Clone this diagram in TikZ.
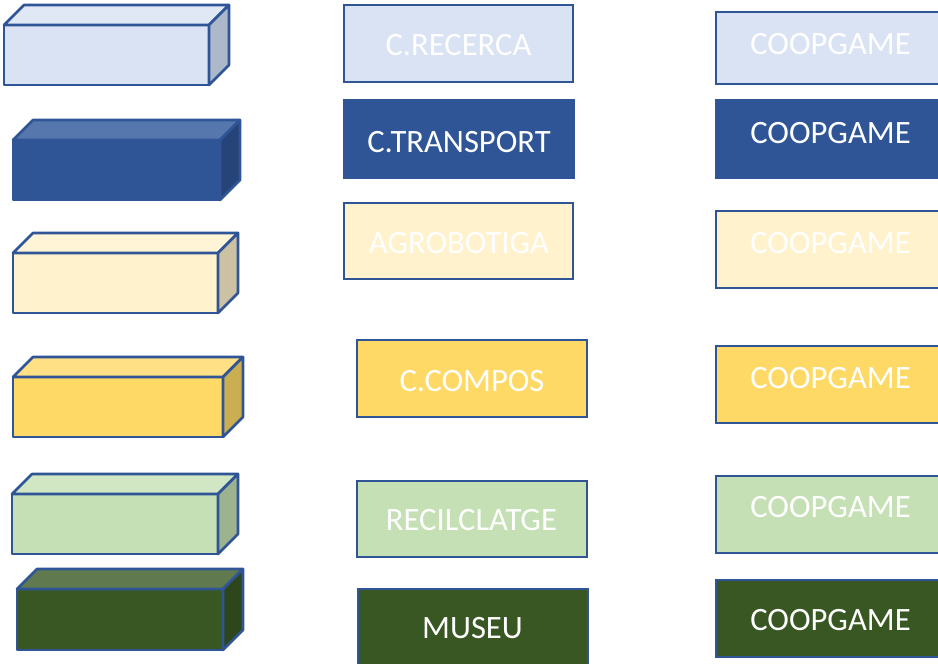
\documentclass[tikz,border=0pt]{standalone}
\usepackage{fontspec}
\setmainfont{Carlito}
\usepackage{xcolor}

\definecolor{edgeblue}{HTML}{2F5597}
\definecolor{paleblue}{HTML}{DAE3F3}
\definecolor{paleblueTop}{HTML}{E1E8F5}
\definecolor{paleblueSide}{HTML}{ADB9CA}
\definecolor{deepblue}{HTML}{2F5597}
\definecolor{deepblueTop}{HTML}{5677AE}
\definecolor{deepblueSide}{HTML}{264478}
\definecolor{cream}{HTML}{FFF2CC}
\definecolor{creamTop}{HTML}{FFF4D6}
\definecolor{creamSide}{HTML}{CCC2A3}
\definecolor{gold}{HTML}{FFD966}
\definecolor{goldTop}{HTML}{FFE085}
\definecolor{goldSide}{HTML}{CCAE52}
\definecolor{mint}{HTML}{C5E0B4}
\definecolor{mintTop}{HTML}{D1E6C3}
\definecolor{mintSide}{HTML}{9DB390}
\definecolor{forest}{HTML}{385723}
\definecolor{forestTop}{HTML}{60794F}
\definecolor{forestSide}{HTML}{2D461C}

% box with depth: x1 y1 x2 y2 face top side edge
\newcommand{\drawbrick}[8]{%
  \draw[brick, fill=#5, draw=#8] (#1,#2) rectangle (#3,#4);
  \draw[brick, fill=#6, draw=#8] (#1,#2) -- (#1+20,#2-20) -- (#3+20,#2-20) -- (#3,#2) -- cycle;
  \draw[brick, fill=#7, draw=#8] (#3,#2) -- (#3+20,#2-20) -- (#3+20,#4-20) -- (#3,#4) -- cycle;
}

\tikzset{
  brick/.style={line width=1.3pt, line join=round},
  tag/.style={line width=1.3pt},
  lbl/.style={text=white, inner sep=0pt, font=\fontsize{16.3}{19}\selectfont}
}

\begin{document}
\begin{tikzpicture}[x=0.5pt,y=-0.5pt]
        \clip (0,0) rectangle (938,664);
        \fill[white] (0,0) rectangle (938,664);

        % Draw the bricks on the left
        \drawbrick{4}{25}{209}{85}{paleblue}{paleblueTop}{paleblueSide}{edgeblue}
        \drawbrick{13}{140}{220}{200}{deepblue}{deepblueTop}{deepblueSide}{deepblue}
        \drawbrick{13}{253}{218}{313}{cream}{creamTop}{creamSide}{edgeblue}
        \drawbrick{13}{377}{223}{437}{gold}{goldTop}{goldSide}{edgeblue}
        \drawbrick{12}{494}{218}{554}{mint}{mintTop}{mintSide}{edgeblue}
        \drawbrick{17}{589}{223}{650}{forest}{forestTop}{forestSide}{edgeblue}

        % Middle column
        \draw[tag, fill=paleblue, draw=edgeblue] (344,5) rectangle (573,82);
        \node[lbl] (recerca) at (458.5,45) {C.RECERCA};
        \draw[tag, fill=deepblue, draw=deepblue] (344,100) rectangle (574,178);
        \node[lbl] (transport) at (459,142) {C.TRANSPORT};
        \draw[tag, fill=cream, draw=edgeblue] (344,203) rectangle (573,279);
        \node[lbl] (agrobotiga) at (459,243) {AGROBOTIGA};
        \draw[tag, fill=gold, draw=edgeblue] (357,340) rectangle (587,417);
        \node[lbl] (compos) at (472,381) {C.COMPOS};
        \draw[tag, fill=mint, draw=edgeblue] (357,481) rectangle (587,557);
        \node[lbl] (reciclatge) at (471.5,520) {RECILCLATGE};
        \draw[tag, fill=forest, draw=edgeblue] (358,589) rectangle (588,680);
        \node[lbl] (museu) at (472.5,628) {MUSEU};

        % Right column
        \draw[tag, fill=paleblue, draw=edgeblue] (716,12) rectangle (945,84);
        \node[lbl] (coop1) at (830.5,44) {COOPGAME};
        \draw[tag, fill=deepblue, draw=deepblue] (716,100) rectangle (945,178);
        \node[lbl] (coop2) at (830.5,133) {COOPGAME};
        \draw[tag, fill=cream, draw=edgeblue] (716,211) rectangle (945,288);
        \node[lbl] (coop3) at (830.5,243) {COOPGAME};
        \draw[tag, fill=gold, draw=edgeblue] (716,346) rectangle (945,423);
        \node[lbl] (coop4) at (830.5,378) {COOPGAME};
        \draw[tag, fill=mint, draw=edgeblue] (716,476) rectangle (945,553);
        \node[lbl] (coop5) at (830.5,507) {COOPGAME};
        \draw[tag, fill=forest, draw=edgeblue] (716,580) rectangle (945,657);
        \node[lbl] (coop6) at (830.5,620) {COOPGAME};
    \end{tikzpicture}
\end{document}
